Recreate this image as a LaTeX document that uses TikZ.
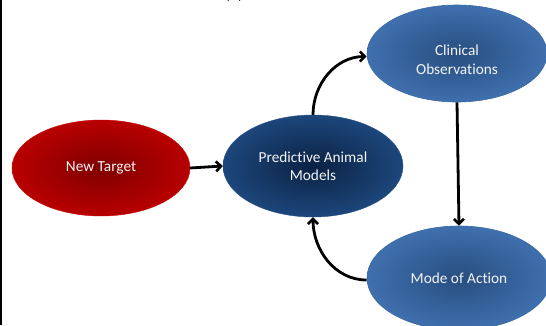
\documentclass[tikz,border=0pt]{standalone}
\usepackage{fontspec}
\setmainfont{Carlito}[RawFeature={-liga}]
\usetikzlibrary{shapes.geometric,arrows.meta}

% fill colours: centre and rim of each ellipse
\definecolor{redin}{HTML}{800000}
\definecolor{redout}{HTML}{C80000}
\definecolor{navyin}{HTML}{0A2244}
\definecolor{navyout}{HTML}{22508A}
\definecolor{bluein}{HTML}{274E80}
\definecolor{blueout}{HTML}{4679BA}
\definecolor{blueline}{HTML}{3A68A3}
\definecolor{labeltext}{HTML}{F4F4F4}

% radial fills running from the centre out to the rim
\pgfdeclareradialshading{redglow}{\pgfpoint{0bp}{0bp}}{color(0bp)=(redin); color(32bp)=(redout); color(50bp)=(redout)}
\pgfdeclareradialshading{navyglow}{\pgfpoint{0bp}{0bp}}{color(0bp)=(navyin); color(32bp)=(navyout); color(50bp)=(navyout)}
\pgfdeclareradialshading{blueglow}{\pgfpoint{0bp}{0bp}}{color(0bp)=(bluein); color(32bp)=(blueout); color(50bp)=(blueout)}

\tikzset{
  blob/.style={ellipse, inner sep=0pt, align=center, text=labeltext,
    font=\fontsize{15.3}{18.5}\selectfont},
  redblob/.style={blob, shading=redglow, draw=redout, line width=0.4pt},
  navyblob/.style={blob, shading=navyglow, draw=navyout, line width=0.4pt},
  blueblob/.style={blob, shading=blueglow, draw=blueline, line width=0.6pt},
  flow/.style={line width=2.8pt, -{Straight Barb[length=5pt,width=10pt,line width=2.6pt]}}
}

\begin{document}
\begin{tikzpicture}[x=1pt,y=1pt]
\useasboundingbox (0,0) rectangle (546,325);

% panel letter, mostly above the top edge
\node[anchor=base, font=\fontsize{15}{18}\selectfont] (panel) at (234,326) {(A)};

% frame line on the left
\draw[line width=1.6pt] (0.8,0) -- (0.8,325);

\node[redblob, minimum width=178pt, minimum height=96pt] (target) at (101,157) {New Target};
\node[navyblob, minimum width=180pt, minimum height=102pt] (models) at (313,159) {Predictive Animal\\Models};
\node[blueblob, minimum width=180pt, minimum height=97pt,
      label={[blob, yshift=-6pt]center:Clinical\\Observations}] (clinical) at (457,271.5) {};
\node[blueblob, minimum width=184pt, minimum height=104pt] (action) at (459,47) {Mode of Action};

\draw[flow] (target.east) -- (models.west);
\draw[flow] (models.north) to[out=90, in=180] ([yshift=-3pt]clinical.west);
\draw[flow] (clinical.south) -- (action.north);
\draw[flow] ([yshift=-2pt]action.west) to[out=180, in=-90] (models.south);
\end{tikzpicture}
\end{document}
